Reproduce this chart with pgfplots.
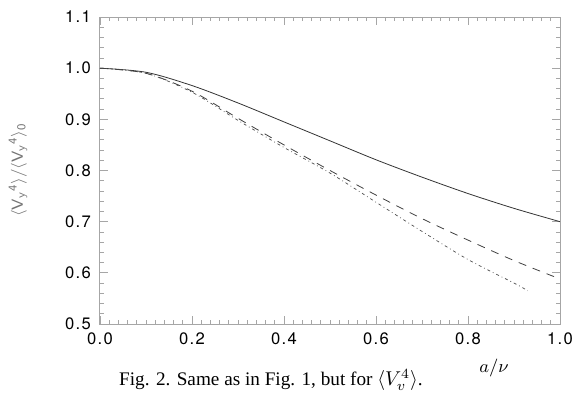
\documentclass[border=0pt]{standalone}
\usepackage{fontspec}
\setmainfont{Liberation Serif}
\newfontfamily\hel[LetterSpace=8]{TeX Gyre Heros}
\usepackage{pgfplots}
\pgfplotsset{compat=1.18}
\begin{document}
\begin{tikzpicture}
\path[use as bounding box] (-50pt,-39pt) rectangle (236.5pt,162pt);
\begin{axis}[
    name=ax,
    scale only axis,
    width=230pt, height=153.5pt,
    xmin=0, xmax=1, ymin=0.5, ymax=1.1,
    xtick={0,0.2,...,1.0}, ytick={0.5,0.6,...,1.1},
    minor x tick num=9, minor y tick num=4,
    tick align=inside,
    major tick length=4pt, minor tick length=2pt,
    axis line style={gray!70, line width=0.5pt},
    tick style={gray!70, line width=0.4pt},
    xticklabel style={font=\hel\fontsize{8.3}{9}\selectfont, yshift=-1pt},
    yticklabel style={font=\hel\fontsize{8.3}{9}\selectfont, xshift=-1pt},
    /pgf/number format/assume math mode=true,
    /pgf/number format/.cd, fixed, fixed zerofill, precision=1, /pgfplots/.cd,
    clip=false,
]
\addplot[black!80, line width=0.4pt, smooth] coordinates {
    (0,1.000) (0.1,0.992) (0.2,0.966) (0.3,0.932) (0.4,0.895) (0.5,0.858)
    (0.6,0.821) (0.7,0.787) (0.8,0.755) (0.9,0.726) (1.0,0.700)
};
\addplot[black!75, line width=0.4pt, smooth, dash pattern=on 4pt off 3.5pt] coordinates {
    (0,1.000) (0.1,0.990) (0.2,0.955) (0.3,0.902) (0.4,0.850) (0.5,0.800)
    (0.6,0.752) (0.7,0.706) (0.8,0.664) (0.9,0.624) (1.0,0.588)
};
\addplot[black!70, line width=0.35pt, smooth, dash pattern=on 1.5pt off 1.5pt on 0.4pt off 1.5pt] coordinates {
    (0,1.000) (0.1,0.990) (0.2,0.953) (0.3,0.898) (0.4,0.845) (0.5,0.795)
    (0.6,0.738) (0.7,0.681) (0.8,0.626) (0.9,0.580) (0.93,0.565)
};
\end{axis}
\node[rotate=90, font=\hel\fontsize{8}{9}\selectfont, gray!90!black] at (-41pt,77pt)
    {$\langle\mathsf{V_y}^{\mathsf{4}}\rangle/\langle\mathsf{V_y}^{\mathsf{4}}\rangle_{\mathsf{0}}$};
\node[font=\fontsize{9}{10}\selectfont, inner sep=1pt] at (197pt,-22pt) {$a/\nu$};
\node[font=\fontsize{9.6}{11}\selectfont, inner sep=1pt] at (85.5pt,-28pt) {Fig. 2. Same as in Fig. 1, but for $\langle V_v^4\rangle$.};
\end{tikzpicture}
\end{document}
